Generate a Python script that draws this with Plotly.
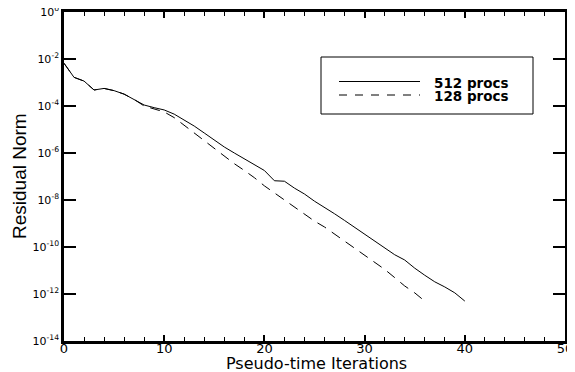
import plotly.graph_objects as go

iterations_512 = list(range(0, 41))
residual_512 = [6.6e-3, 1.66e-3, 1.15e-3, 4.8e-4, 5.6e-4, 4.5e-4, 3.2e-4, 1.9e-4, 1.1e-4, 8.5e-5,
                6.8e-5, 4.5e-5, 2.5e-5, 1.4e-5, 7.1e-6, 3.5e-6, 1.8e-6, 1.0e-6, 5.6e-7, 3.2e-7,
                1.8e-7, 6.6e-8, 6.3e-8, 3.2e-8, 1.8e-8, 8.9e-9, 5.0e-9, 2.6e-9, 1.35e-9, 6.8e-10,
                3.4e-10, 1.8e-10, 8.9e-11, 4.7e-11, 2.8e-11, 1.26e-11, 6.3e-12, 3.3e-12, 2.0e-12, 1.12e-12,
                5.0e-13]

iterations_128 = list(range(0, 37))
residual_128 = [6.6e-3, 1.66e-3, 1.15e-3, 4.8e-4, 5.6e-4, 4.5e-4, 3.2e-4, 1.9e-4, 1.0e-4, 7.6e-5,
                5.6e-5, 3.2e-5, 1.5e-5, 7.6e-6, 3.5e-6, 1.6e-6, 7.6e-7, 3.5e-7, 1.8e-7, 8.9e-8,
                4.0e-8, 2.0e-8, 1.0e-8, 5.0e-9, 2.5e-9, 1.26e-9, 7.1e-10, 3.5e-10, 1.8e-10, 8.9e-11,
                4.5e-11, 2.2e-11, 1.12e-11, 5.0e-12, 2.2e-12, 1.12e-12, 5.0e-13]

series_names = ["512 procs", "128 procs"]
y_tick_values = [1e0, 1e-2, 1e-4, 1e-6, 1e-8, 1e-10, 1e-12, 1e-14]
y_tick_labels = ["10<sup>0</sup>", "10<sup>-2</sup>", "10<sup>-4</sup>", "10<sup>-6</sup>",
                 "10<sup>-8</sup>", "10<sup>-10</sup>", "10<sup>-12</sup>", "10<sup>-14</sup>"]
x_tick_values = [0, 10, 20, 30, 40, 50]
x_title = "Pseudo-time Iterations"
y_title = "Residual Norm"

WIDE = "DejaVu Sans, Verdana, sans-serif"
ARIAL = "Liberation Sans, Arial, sans-serif"
OFF = 8  # page body margin
FW, FH = 575 - OFF, 372 - OFF
# plot area in window pixels
L, R, T, B = 64, 565, 12, 341
W = R - L
H = B - T


def px(x):
    return (x - L) / W


def py(y):
    return (B - y) / H


fig = go.Figure()
fig.add_trace(go.Scatter(x=iterations_512, y=residual_512, mode="lines", name=series_names[0],
                         line=dict(color="black", width=1, dash="solid")))
fig.add_trace(go.Scatter(x=iterations_128, y=residual_128, mode="lines", name=series_names[1],
                         line=dict(color="black", width=1, dash="10px,7px")))

# manual legend box
fig.add_shape(type="rect", xref="paper", yref="paper",
              x0=px(321), x1=px(533), y0=py(114), y1=py(57),
              line=dict(color="black", width=1))
fig.add_shape(type="line", xref="paper", yref="paper",
              x0=px(339), x1=px(420), y0=py(81.5), y1=py(81.5),
              line=dict(color="black", width=1))
fig.add_shape(type="line", xref="paper", yref="paper",
              x0=px(339), x1=px(420), y0=py(95), y1=py(95),
              line=dict(color="black", width=1, dash="8px,8px"))
for i, name in enumerate(series_names):
    fig.add_annotation(text="<b>" + name + "</b>", xref="paper", yref="paper",
                       x=px(432), y=py(83 + 13.5 * i),
                       xanchor="left", yanchor="middle", showarrow=False,
                       font=dict(family=WIDE, size=13.5, color="black"))

# axis titles
fig.add_annotation(text=x_title, xref="paper", yref="paper", x=px(316), y=py(363),
                   xanchor="center", yanchor="middle", showarrow=False,
                   font=dict(family=WIDE, size=16, color="black"))
fig.add_annotation(text=y_title, xref="paper", yref="paper", x=px(19), y=py(176),
                   xanchor="center", yanchor="middle", showarrow=False, textangle=-90,
                   font=dict(family=ARIAL, size=19, color="black"))

fig.update_layout(
    width=FW, height=FH,
    margin=dict(l=L - OFF, r=575 - R, t=T - OFF, b=372 - B, autoexpand=False),
    paper_bgcolor="white", plot_bgcolor="white",
    showlegend=False,
    font=dict(family=WIDE, color="black"),
)
fig.update_xaxes(
    range=[0, 50], tickvals=x_tick_values, ticks="inside", ticklen=6, tickwidth=2,
    tickcolor="black", showline=True, linewidth=2.5, linecolor="black", mirror="ticks",
    showgrid=False, zeroline=False, tickfont=dict(size=13, family=WIDE), automargin=False,
    ticklabeloverflow="allow", ticklabelstandoff=-6,
    minor=dict(dtick=2, ticks="inside", ticklen=4, tickwidth=1, tickcolor="black", showgrid=False),
)
fig.update_yaxes(
    type="log", range=[-14, 0], tickvals=y_tick_values, ticktext=y_tick_labels,
    ticks="inside", ticklen=12, tickwidth=2, tickcolor="black", automargin=False,
    showline=True, linewidth=2.5, linecolor="black", mirror="ticks", ticklabeloverflow="allow",
    showgrid=False, zeroline=False, tickfont=dict(size=11, family=WIDE),
)

fig.write_html("out.html")
